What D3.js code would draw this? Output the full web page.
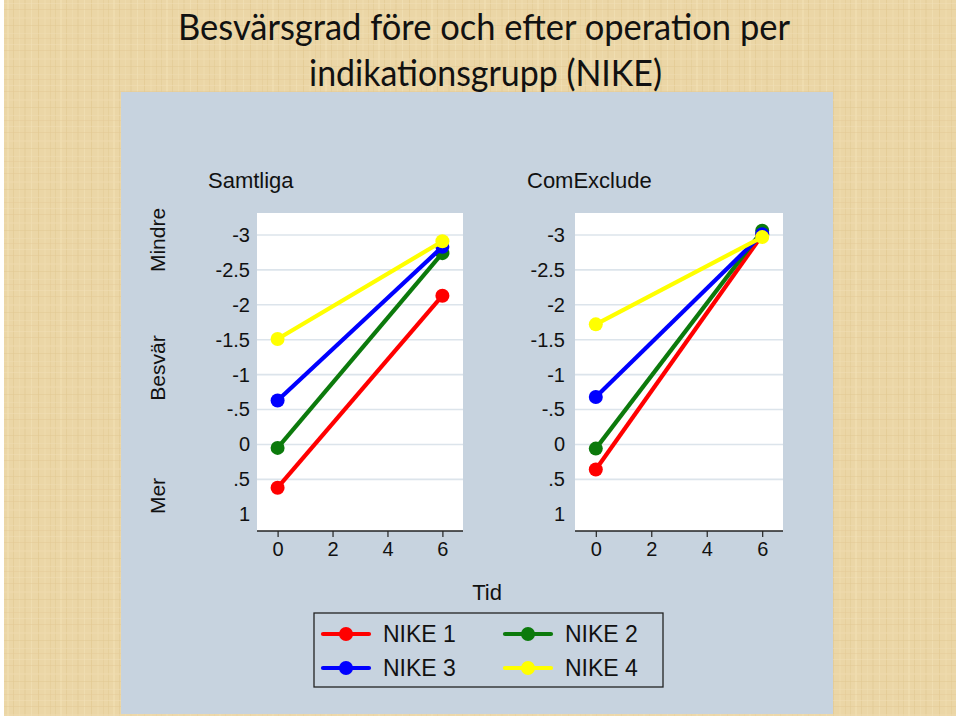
<!DOCTYPE html>
<html><head><meta charset="utf-8">
<script src="https://cdn.jsdelivr.net/npm/d3@7"></script>
<style>html,body{margin:0;padding:0;background:#fff;}svg{display:block;}</style>
</head><body>
<script>
// ---- data ----
const times = [0, 6];
const panels = ["Samtliga", "ComExclude"];
const seriesNames = ["NIKE 1", "NIKE 2", "NIKE 3", "NIKE 4"];
const seriesColors = ["#ff0000", "#0c7a0c", "#0000ff", "#ffff00"];
// values per panel, per series: [t=0, t=6]
const samtliga = {
  "NIKE 1": [0.62, -2.13],
  "NIKE 2": [0.05, -2.74],
  "NIKE 3": [-0.63, -2.83],
  "NIKE 4": [-1.51, -2.91]
};
const comExclude = {
  "NIKE 1": [0.36, -3.0],
  "NIKE 2": [0.06, -3.06],
  "NIKE 3": [-0.68, -3.01],
  "NIKE 4": [-1.72, -2.97]
};
const yTicks = [-3, -2.5, -2, -1.5, -1, -0.5, 0, 0.5, 1];
const yTickLabels = ["-3", "-2.5", "-2", "-1.5", "-1", "-.5", "0", ".5", "1"];
const xTicks = [0, 2, 4, 6];
const drawOrder = ["NIKE 1", "NIKE 2", "NIKE 3", "NIKE 4"];

const W = 960, H = 716;
const svg = d3.select("body").append("svg").attr("width", W).attr("height", H);
const defs = svg.append("defs");

// textured parchment background (fixed, hand-placed streaks)
const pat = defs.append("pattern").attr("id", "tex").attr("patternUnits", "userSpaceOnUse")
  .attr("width", 53).attr("height", 41);
pat.append("rect").attr("width", 53).attr("height", 41).attr("fill", "#ebd6a6");
[[2,"#e2c993",1],[7,"#f1dfb4",2],[13,"#e0c68f",1],[19,"#efdcb0",1],[24,"#e4cc98",2],[31,"#f2e1b8",1],[38,"#dfc48c",1],[44,"#eedaac",2],[50,"#e3ca95",1]].forEach(([x,c,w]) =>
  pat.append("rect").attr("x", x).attr("y", 0).attr("width", w).attr("height", 41).attr("fill", c).attr("opacity", 0.55));
[[3,"#f2e1b8",1],[9,"#e2c892",1],[17,"#efdcb0",2],[25,"#e1c790",1],[33,"#f0deb3",1],[38,"#e4cb97",1]].forEach(([y,c,w]) =>
  pat.append("rect").attr("x", 0).attr("y", y).attr("width", 53).attr("height", w).attr("fill", c).attr("opacity", 0.45));

svg.append("rect").attr("x", 0).attr("y", 0).attr("width", W).attr("height", H).attr("fill", "#fff");
svg.append("rect").attr("x", 4).attr("y", 0).attr("width", 952).attr("height", H).attr("fill", "url(#tex)");

// title
const title = svg.append("g").attr("font-family", "Lato, 'Open Sans', sans-serif").attr("fill", "#111").attr("font-size", 36);
title.append("text").attr("x", 178).attr("y", 40).attr("textLength", 612).attr("lengthAdjust", "spacingAndGlyphs")
  .text("Besvärsgrad före och efter operation per");
title.append("text").attr("x", 309).attr("y", 86).attr("textLength", 353).attr("lengthAdjust", "spacingAndGlyphs")
  .text("indikationsgrupp (NIKE)");

// gray chart panel
svg.append("rect").attr("x", 121).attr("y", 92).attr("width", 712).attr("height", 622).attr("fill", "#c7d3df");

const font = "'Liberation Sans', Arial, sans-serif";
const textColor = "#111";

// side labels
[["Mindre", 240], ["Besvär", 368], ["Mer", 496]].forEach(([t, y]) => {
  svg.append("text").attr("transform", `translate(165,${y}) rotate(-90)`).attr("text-anchor", "middle")
    .attr("font-family", font).attr("font-size", 21).attr("fill", textColor).text(t);
});

const plotTop = 213, plotBottom = 531;
const panelDefs = [
  { name: panels[0], data: samtliga, left: 257, right: 463, labelGap: 7, titleX: 208 },
  { name: panels[1], data: comExclude, left: 575, right: 783, labelGap: 10, titleX: 527 }
];

const y = d3.scaleLinear().domain([-3.315, 1.24]).range([plotTop, plotBottom]);

panelDefs.forEach(p => {
  const x = d3.scaleLinear().domain([-0.75, 6.75]).range([p.left, p.right]);
  const g = svg.append("g");
  g.append("rect").attr("x", p.left).attr("y", plotTop).attr("width", p.right - p.left)
    .attr("height", plotBottom - plotTop).attr("fill", "#fff");
  // gridlines
  g.selectAll("line.grid").data(yTicks.filter(v => v < 1)).join("line")
    .attr("x1", p.left).attr("x2", p.right).attr("y1", d => y(d)).attr("y2", d => y(d))
    .attr("stroke", "#dce4eb").attr("stroke-width", 1.6);
  // panel title
  g.append("text").attr("x", p.titleX).attr("y", 188).attr("font-family", font).attr("font-size", 22)
    .attr("fill", textColor).text(p.name);
  // y axis (labels only)
  const yAxis = d3.axisLeft(y).tickValues(yTicks).tickFormat((d, i) => yTickLabels[i]).tickSize(0).tickPadding(p.labelGap);
  const ya = g.append("g").attr("transform", `translate(${p.left},0)`).call(yAxis);
  ya.select(".domain").remove();
  ya.selectAll("text").attr("font-family", font).attr("font-size", 20).attr("fill", textColor);
  // x axis
  const xAxis = d3.axisBottom(x).tickValues(xTicks).tickSize(6).tickPadding(5).tickSizeOuter(0);
  const xa = g.append("g").attr("transform", `translate(0,${plotBottom})`).call(xAxis);
  xa.select(".domain").attr("stroke", "#222").attr("stroke-width", 1.3).attr("d", `M${p.left},0H${p.right}`);
  xa.selectAll(".tick line").attr("stroke", "#222").attr("stroke-width", 1.2);
  xa.selectAll("text").attr("font-family", font).attr("font-size", 20).attr("fill", textColor);
  // series
  drawOrder.forEach(name => {
    const i = seriesNames.indexOf(name);
    const vals = p.data[name];
    const pts = times.map((t, k) => [x(t), y(vals[k])]);
    g.append("path").attr("d", d3.line()(pts)).attr("stroke", seriesColors[i]).attr("stroke-width", 4.2)
      .attr("fill", "none");
    g.selectAll(null).data(pts).join("circle").attr("cx", d => d[0]).attr("cy", d => d[1]).attr("r", 7)
      .attr("fill", seriesColors[i]);
  });
});

// x axis title
svg.append("text").attr("x", 487).attr("y", 600).attr("text-anchor", "middle").attr("font-family", font)
  .attr("font-size", 22).attr("fill", textColor).text("Tid");

// legend
const lg = svg.append("g");
lg.append("rect").attr("x", 314).attr("y", 613).attr("width", 349).attr("height", 74)
  .attr("fill", "none").attr("stroke", "#222").attr("stroke-width", 1.3);
seriesNames.forEach((n, i) => {
  const col = i % 2, row = Math.floor(i / 2);
  const x0 = col === 0 ? 323 : 505, cy = row === 0 ? 634 : 668;
  lg.append("line").attr("x1", x0).attr("x2", x0 + 46).attr("y1", cy).attr("y2", cy)
    .attr("stroke", seriesColors[i]).attr("stroke-width", 4.2).attr("stroke-linecap", "round");
  lg.append("circle").attr("cx", x0 + 23).attr("cy", cy).attr("r", 7).attr("fill", seriesColors[i]);
  lg.append("text").attr("x", x0 + 60).attr("y", cy + 8).attr("font-family", font).attr("font-size", 23)
    .attr("fill", textColor).text(n);
});
</script>
</body></html>
